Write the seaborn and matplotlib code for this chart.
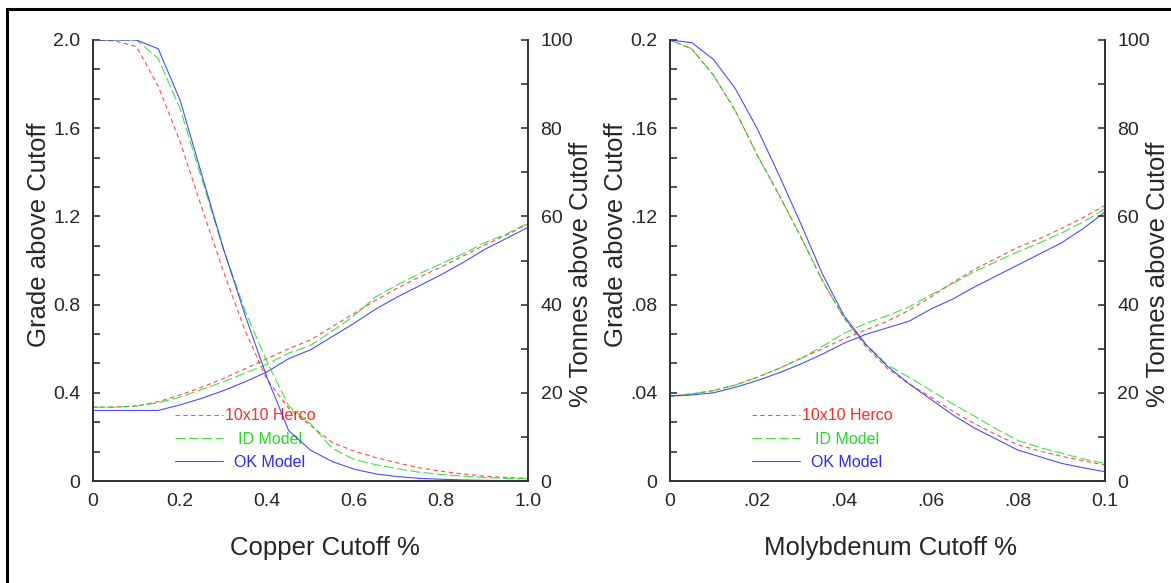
import seaborn as sns
import pandas as pd
import matplotlib.pyplot as plt
from matplotlib.patches import Rectangle
from matplotlib.ticker import MultipleLocator

MODELS = ["10x10 Herco", "ID Model", "OK Model"]

# copper cutoff grades (%)
CU_CUTOFF = [0.00, 0.05, 0.10, 0.15, 0.20, 0.25, 0.30, 0.35, 0.40, 0.45, 0.50,
             0.55, 0.60, 0.65, 0.70, 0.75, 0.80, 0.85, 0.90, 0.95, 1.00]
CU_TONNES_HERCO = [100, 99.8, 98.5, 89.5, 77, 62, 47.5, 34, 23, 16.5, 12.6,
                   8.7, 6.8, 5.3, 4.1, 3.0, 2.2, 1.6, 1.1, 0.8, 0.6]
CU_TONNES_ID = [100, 100, 100, 95.8, 84.5, 68.5, 52.5, 38.5, 27, 17, 13,
                7.4, 4.9, 3.7, 2.8, 2.0, 1.5, 1.1, 0.8, 0.6, 0.5]
CU_TONNES_OK = [100, 100, 100, 98, 86.4, 69.5, 52.6, 37.5, 23.5, 11.4, 7,
                4.4, 2.7, 1.6, 1.0, 0.6, 0.4, 0.25, 0.15, 0.1, 0.1]
CU_GRADE_HERCO = [0.335, 0.335, 0.34, 0.36, 0.39, 0.425, 0.465, 0.51, 0.555, 0.60, 0.64,
                  0.70, 0.76, 0.82, 0.875, 0.925, 0.97, 1.02, 1.07, 1.115, 1.165]
CU_GRADE_ID = [0.335, 0.335, 0.34, 0.355, 0.38, 0.415, 0.45, 0.49, 0.53, 0.58, 0.615,
               0.68, 0.75, 0.835, 0.89, 0.94, 0.985, 1.03, 1.08, 1.12, 1.17]
CU_GRADE_OK = [0.32, 0.32, 0.32, 0.32, 0.345, 0.375, 0.41, 0.45, 0.495, 0.555, 0.595,
               0.655, 0.715, 0.78, 0.835, 0.885, 0.935, 0.99, 1.05, 1.10, 1.15]

# molybdenum cutoff grades (%)
MO_CUTOFF = [0.000, 0.005, 0.010, 0.015, 0.020, 0.025, 0.030, 0.035, 0.040, 0.045, 0.050,
             0.055, 0.060, 0.065, 0.070, 0.075, 0.080, 0.085, 0.090, 0.095, 0.100]
MO_TONNES_HERCO = [100, 98, 92, 84, 74, 65, 55.5, 45.5, 37, 30.5, 25.5,
                   22, 19, 15.8, 13, 10.5, 8.2, 6.8, 5.6, 4.6, 3.6]
MO_TONNES_ID = [100, 98, 92, 84, 74, 65, 55.5, 45.5, 37, 31, 26.3,
                23.5, 20.5, 17.5, 14.7, 11.8, 9.2, 7.6, 6.3, 5.0, 4.0]
MO_TONNES_OK = [100, 99.4, 95.6, 89, 80, 69.5, 58.5, 47, 37.5, 31, 26,
                22, 18.5, 15, 12, 9.5, 7, 5.5, 4, 3, 2.1]
MO_GRADE_HERCO = [0.0385, 0.0395, 0.041, 0.0435, 0.047, 0.051, 0.0555, 0.060, 0.0645, 0.0685, 0.0725,
                  0.0775, 0.0835, 0.090, 0.096, 0.101, 0.106, 0.110, 0.1145, 0.1195, 0.125]
MO_GRADE_ID = [0.0385, 0.0395, 0.041, 0.0435, 0.047, 0.051, 0.0555, 0.061, 0.067, 0.0715, 0.075,
               0.079, 0.0845, 0.0895, 0.095, 0.0995, 0.104, 0.108, 0.1125, 0.1175, 0.1235]
MO_GRADE_OK = [0.0385, 0.039, 0.040, 0.0425, 0.0455, 0.049, 0.053, 0.0575, 0.0625, 0.0665, 0.0695,
               0.0725, 0.078, 0.0825, 0.088, 0.093, 0.098, 0.103, 0.108, 0.1145, 0.122]

CU_XTICKS = [0, 0.2, 0.4, 0.6, 0.8, 1.0]
CU_XLABELS = ["0", "0.2", "0.4", "0.6", "0.8", "1.0"]
CU_YTICKS = [0, 0.4, 0.8, 1.2, 1.6, 2.0]
CU_YLABELS = ["0", "0.4", "0.8", "1.2", "1.6", "2.0"]
MO_XTICKS = [0, 0.02, 0.04, 0.06, 0.08, 0.1]
MO_XLABELS = ["0", ".02", ".04", ".06", ".08", "0.1"]
MO_YTICKS = [0, 0.04, 0.08, 0.12, 0.16, 0.2]
MO_YLABELS = ["0", ".04", ".08", ".12", ".16", "0.2"]
PCT_TICKS = [0, 20, 40, 60, 80, 100]
PCT_LABELS = ["0", "20", "40", "60", "80", "100"]

LINE_COLORS = {"10x10 Herco": "#ff2020", "ID Model": "#10e010", "OK Model": "#2020ff"}
TEXT_COLORS = {"10x10 Herco": "#ff2a2a", "ID Model": "#22dd22", "OK Model": "#2a2aff"}
DASHES = {"10x10 Herco": (4, 3), "ID Model": (9, 3), "OK Model": ""}


def long_frame(cutoff, series):
    rows = []
    for model, values in zip(MODELS, series):
        for c, v in zip(cutoff, values):
            rows.append({"cutoff": c, "value": v, "model": model})
    return pd.DataFrame(rows)


def style_axes(ax, twin, xmax, ymax, xt, xl, yt, yl, xminor, yminor):
    ax.set_xlim(0, xmax)
    ax.set_ylim(0, ymax)
    twin.set_ylim(0, 100)
    ax.set_xticks(xt, xl)
    ax.set_yticks(yt, yl)
    twin.set_yticks(PCT_TICKS, PCT_LABELS)
    ax.xaxis.set_minor_locator(MultipleLocator(xminor))
    ax.yaxis.set_minor_locator(MultipleLocator(yminor))
    twin.yaxis.set_minor_locator(MultipleLocator(10))
    for a in (ax, twin):
        a.spines["top"].set_visible(False)
        for s in a.spines.values():
            s.set_linewidth(1.3)
            s.set_color("#333333")
        a.tick_params(which="both", direction="in", length=5, width=1.1,
                      color="#222222", labelsize=14, pad=9)
        a.set_xlabel("")
    ax.set_ylabel("Grade above Cutoff", fontsize=18.5)
    twin.set_ylabel("% Tonnes above Cutoff", fontsize=18.5)
    ax.yaxis.set_label_coords(-0.096, 0.558)
    twin.yaxis.set_label_coords(1.094, 0.469)


def draw_panel(ax, cutoff, grades, tonnes, xlabel, xlabel_x):
    twin = ax.twinx()
    sns.lineplot(data=long_frame(cutoff, grades), x="cutoff", y="value",
                 hue="model", style="model", palette=LINE_COLORS, dashes=DASHES,
                 linewidth=0.8, alpha=0.8, legend=False, ax=ax)
    sns.lineplot(data=long_frame(cutoff, tonnes), x="cutoff", y="value",
                 hue="model", style="model", palette=LINE_COLORS, dashes=DASHES,
                 linewidth=0.8, alpha=0.8, legend=False, ax=twin)
    handles = twin.get_lines()[:3]
    leg = ax.legend(handles, MODELS, loc="center", bbox_to_anchor=(0.35, 0.095),
                    frameon=False, fontsize=11.5, handlelength=3.0,
                    handletextpad=0.1, labelspacing=0.52)
    for t, m in zip(leg.get_texts(), MODELS):
        t.set_color(TEXT_COLORS[m])
    ax.text(xlabel_x, -0.152, xlabel, transform=ax.transAxes, ha="center", va="center",
            fontsize=18.5)
    return twin, leg


sns.set_style("white")
plt.rcParams["font.family"] = ["Liberation Sans", "DejaVu Sans"]

fig = plt.figure(figsize=(11.71, 5.83), dpi=100)
ax1 = fig.add_axes([93 / 1171, 1 - 481 / 583, 435 / 1171, 441 / 583])
ax2 = fig.add_axes([670 / 1171, 1 - 481 / 583, 435 / 1171, 441 / 583])

tw1, leg1 = draw_panel(ax1, CU_CUTOFF, [CU_GRADE_HERCO, CU_GRADE_ID, CU_GRADE_OK],
                       [CU_TONNES_HERCO, CU_TONNES_ID, CU_TONNES_OK], "Copper Cutoff %", 0.533)
style_axes(ax1, tw1, 1.0, 2.0, CU_XTICKS, CU_XLABELS, CU_YTICKS, CU_YLABELS, 0.1, 0.4 / 3)

tw2, leg2 = draw_panel(ax2, MO_CUTOFF, [MO_GRADE_HERCO, MO_GRADE_ID, MO_GRADE_OK],
                       [MO_TONNES_HERCO, MO_TONNES_ID, MO_TONNES_OK], "Molybdenum Cutoff %", 0.506)
style_axes(ax2, tw2, 0.1, 0.2, MO_XTICKS, MO_XLABELS, MO_YTICKS, MO_YLABELS, 0.01, 0.04 / 3)

# centre the legend labels on each other, like the original
renderer = fig.canvas.get_renderer()
for leg in (leg1, leg2):
    texts = leg.get_texts()
    widths = [t.get_window_extent(renderer).width for t in texts]
    wmax = max(widths)
    for t, w in zip(texts, widths):
        t.set_position(((wmax - w) / 2, 0))

# outer frame, cut off on the right and bottom
fig.patches.append(Rectangle((7 / 1171, -0.1), 1.2, 0.1 + 1 - 9 / 583,
                             transform=fig.transFigure, fill=False,
                             linewidth=2.2, edgecolor="black"))

fig.savefig("out.png", dpi=100)
